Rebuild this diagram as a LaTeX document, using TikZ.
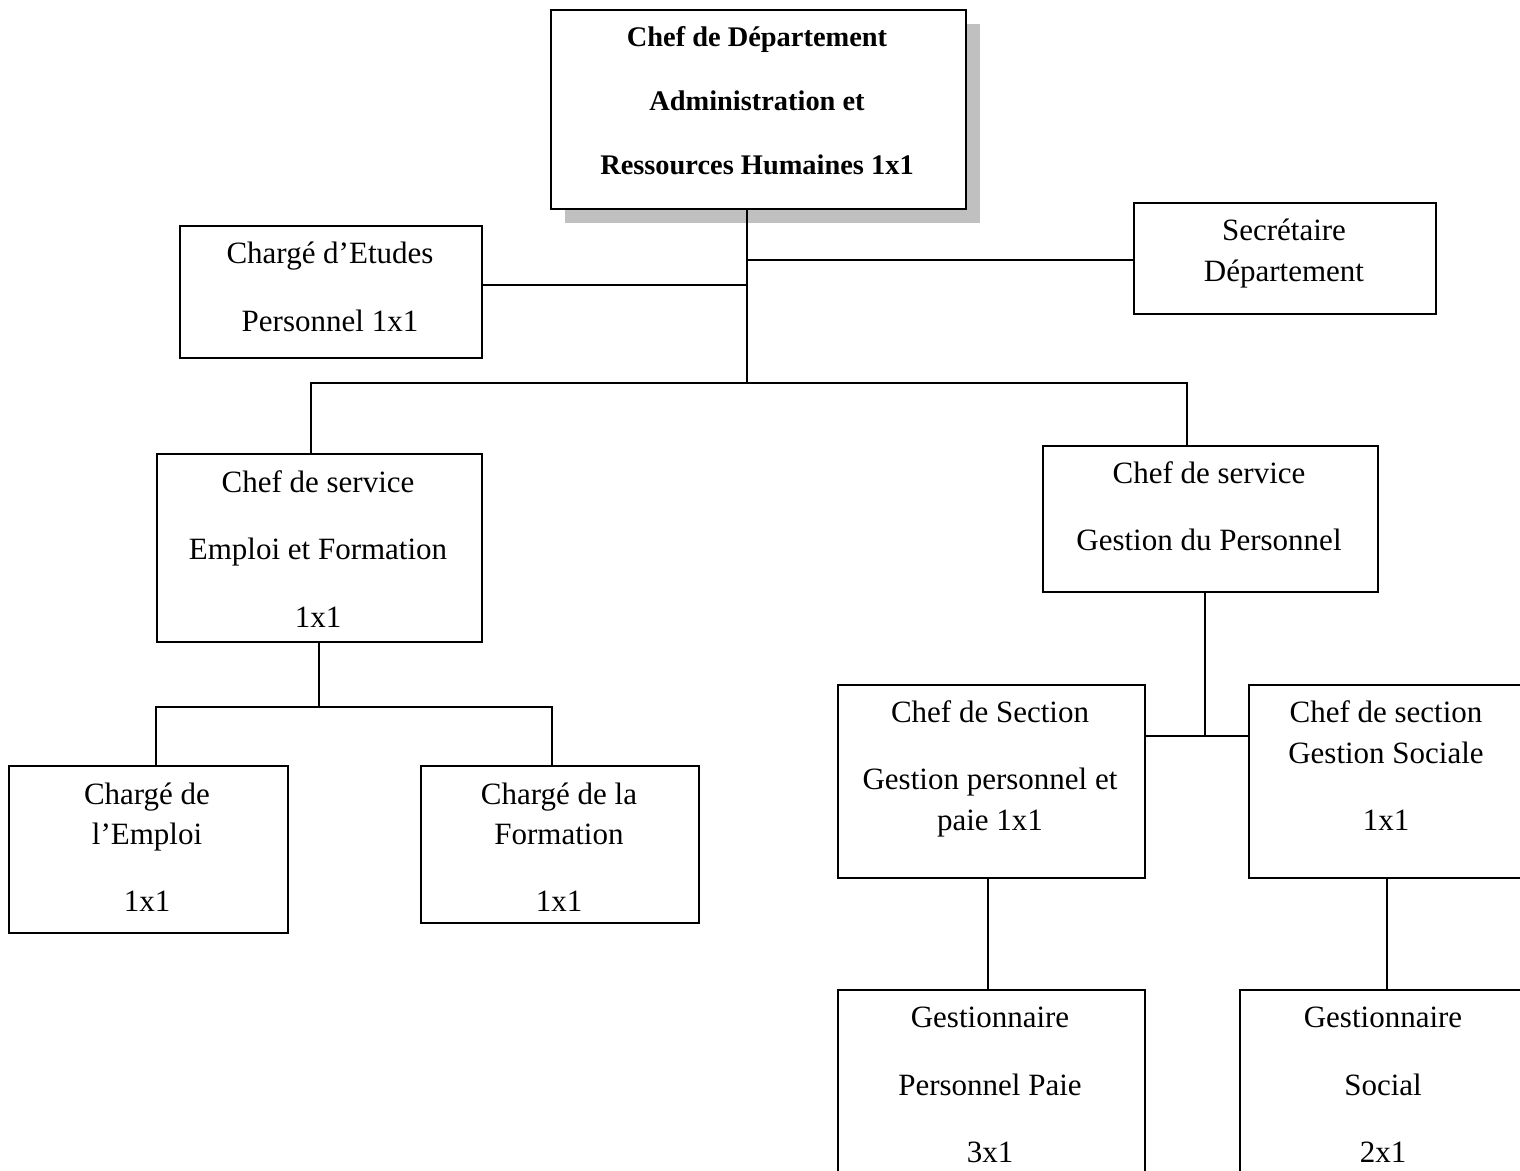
\documentclass[tikz,border=0pt]{standalone}
\usepackage{fontspec}
\setmainfont{Liberation Serif}
\definecolor{shadowgray}{RGB}{192,192,192}
\begin{document}
\begin{tikzpicture}[x=0.5pt,y=-0.5pt,
  box/.style={draw, line width=0.9pt, fill=white, inner sep=0pt, anchor=north west},
  t/.style={anchor=base, inner sep=0pt, font=\fontsize{15.5}{18}\selectfont},
  tb/.style={anchor=base, inner sep=0pt, font=\fontsize{14.2}{17}\selectfont\bfseries},
  link/.style={draw, line width=0.9pt}]
\useasboundingbox (0,0) rectangle (1520,1171);
\clip (0,0) rectangle (1520,1171);
% shadow of top box
\fill[shadowgray] (565,24) rectangle (980,223);
% boxes
\node[box, minimum width=415*0.5pt, minimum height=199*0.5pt] (top) at (550,9) {};
\node[box, minimum width=302*0.5pt, minimum height=132*0.5pt] (etu) at (179,225) {};
\node[box, minimum width=302*0.5pt, minimum height=111*0.5pt] (sec) at (1133,202) {};
\node[box, minimum width=325*0.5pt, minimum height=188*0.5pt] (ems) at (156,453) {};
\node[box, minimum width=335*0.5pt, minimum height=146*0.5pt] (gdp) at (1042,445) {};
\node[box, minimum width=279*0.5pt, minimum height=167*0.5pt] (emp) at (8,765) {};
\node[box, minimum width=278*0.5pt, minimum height=157*0.5pt] (form) at (420,765) {};
\node[box, minimum width=307*0.5pt, minimum height=193*0.5pt] (secL) at (837,684) {};
\node[box, minimum width=277*0.5pt, minimum height=193*0.5pt] (secR) at (1248,684) {};
\node[box, minimum width=307*0.5pt, minimum height=220*0.5pt] (gpp) at (837,989) {};
\node[box, minimum width=288*0.5pt, minimum height=220*0.5pt] (gs) at (1239,989) {};
% junction coordinates
\coordinate (j1) at (747,383);
\coordinate (c1) at (747,285);
\coordinate (c2) at (747,260);
\coordinate (b1) at (311,383);
\coordinate (b2) at (1187,383);
\coordinate (j2) at (319,707);
\coordinate (e1) at (156,707);
\coordinate (e2) at (552,707);
\coordinate (j3) at (1205,736);
\coordinate (l1) at (988,877);
\coordinate (r1) at (1387,877);
% connectors
\draw[link] (top.south -| j1) -- (j1);
\draw[link] (c1 -| etu.east) -- (c1);
\draw[link] (c2) -- (c2 -| sec.west);
\draw[link] (b1 |- ems.north) -- (b1) -- (b2) -- (b2 |- gdp.north);
\draw[link] (ems.south -| j2) -- (j2);
\draw[link] (e1 |- emp.north) -- (e1) -- (e2) -- (e2 |- form.north);
\draw[link] (gdp.south -| j3) -- (j3);
\draw[link] (secL.east |- j3) -- (secR.west |- j3);
\draw[link] (l1) -- (l1 |- gpp.north);
\draw[link] (r1) -- (r1 |- gs.north);
% texts
\node[tb] (top1) at (757,46.5) {Chef de Département};
\node[tb] (top2) at (757,110.5) {Administration et};
\node[tb] (top3) at (757,174.5) {Ressources Humaines 1x1};
\node[t] (etu1) at (330,264) {Chargé d’Etudes};
\node[t] (etu2) at (330,332) {Personnel 1x1};
\node[t] (sec1) at (1284,241) {Secrétaire};
\node[t] (sec2) at (1284,282) {Département};
\node[t] (ems1) at (318,492) {Chef de service};
\node[t] (ems2) at (318,559) {Emploi et Formation};
\node[t] (ems3) at (318,627) {1x1};
\node[t] (gdp1) at (1209,483) {Chef de service};
\node[t] (gdp2) at (1209,550) {Gestion du Personnel};
\node[t] (emp1) at (147,804) {Chargé de};
\node[t] (emp2) at (147,844) {l’Emploi};
\node[t] (emp3) at (147,911) {1x1};
\node[t] (form1) at (559,804) {Chargé de la};
\node[t] (form2) at (559,844) {Formation};
\node[t] (form3) at (559,911) {1x1};
\node[t] (secL1) at (990,722) {Chef de Section};
\node[t] (secL2) at (990,789) {Gestion personnel et};
\node[t] (secL3) at (990,830) {paie 1x1};
\node[t] (secR1) at (1386,722) {Chef de section};
\node[t] (secR2) at (1386,763) {Gestion Sociale};
\node[t] (secR3) at (1386,830) {1x1};
\node[t] (gpp1) at (990,1027) {Gestionnaire};
\node[t] (gpp2) at (990,1095) {Personnel Paie};
\node[t] (gpp3) at (990,1162) {3x1};
\node[t] (gs1) at (1383,1027) {Gestionnaire};
\node[t] (gs2) at (1383,1095) {Social};
\node[t] (gs3) at (1383,1162) {2x1};
\end{tikzpicture}
\end{document}
